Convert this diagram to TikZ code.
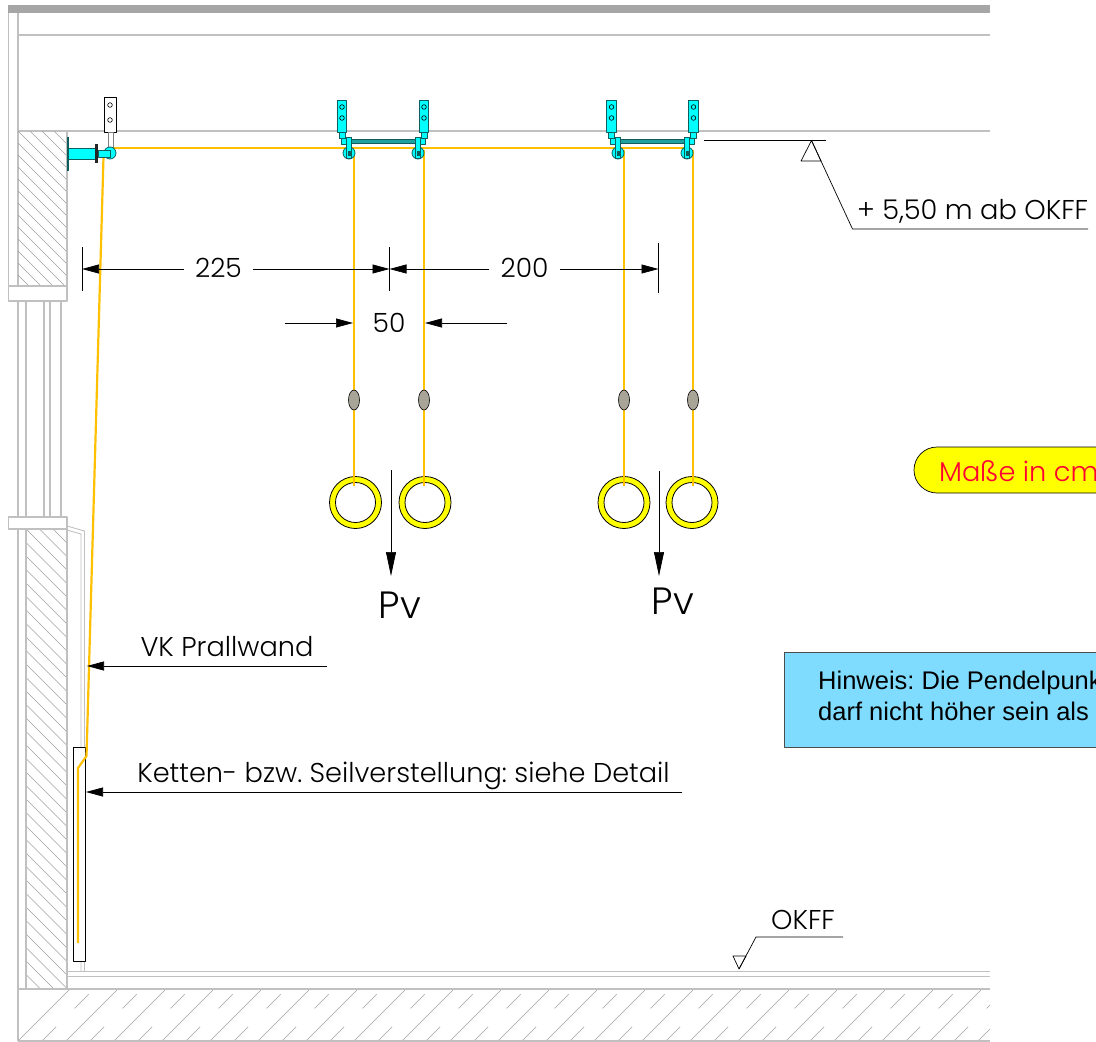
\documentclass[tikz,border=0pt]{standalone}
\usepackage{fontspec}
\setmainfont{Poppins}[UprightFont=* Light]
\newfontfamily\arialfont{Liberation Sans}
\usetikzlibrary{arrows.meta}
\frenchspacing
\definecolor{wallgray}{HTML}{C0C0C0}
\definecolor{hatchgray}{HTML}{A0A0A0}
\definecolor{ropecolor}{HTML}{FFC000}
\definecolor{tealdark}{HTML}{0E5E5E}
\definecolor{partcyan}{HTML}{00FFFF}
\definecolor{barcolor}{HTML}{20A0A0}
\definecolor{ringyellow}{HTML}{FFFF00}
\definecolor{notecolor}{HTML}{80DCFF}
\definecolor{weightgray}{HTML}{A8A498}
\definecolor{unitred}{HTML}{FF0033}
\begin{document}
\begin{tikzpicture}[x=1pt,y=-1pt,line join=round,
	wall/.style={draw=wallgray,line width=1.3pt},
	hatch/.style={draw=hatchgray,line width=0.6pt},
	rope/.style={draw=ropecolor,line width=2.2pt},
	part/.style={draw=tealdark,fill=partcyan,line width=0.8pt},
	plate/.style={draw=black,line width=0.9pt},
	dimline/.style={draw=black,line width=0.7pt},
	dimarrow/.style={dimline,-{Triangle[length=17pt,width=9pt]}},
	dimtext/.style={font=\fontsize{26.5}{30}\selectfont,inner ysep=0pt,inner xsep=11pt},
	leadtext/.style={font=\fontsize{27.2}{30}\selectfont,inner sep=0pt,anchor=base},
	pvtext/.style={font=\fontsize{38}{42}\selectfont,inner sep=0pt},
	notetext/.style={font=\arialfont\fontsize{25.5}{28}\selectfont,inner sep=0pt,anchor=base west}]
	\clip (0,0) rectangle (1096,1042);
	\useasboundingbox (0,0) rectangle (1096,1042);

	% building
	\fill[gray!70] (8,5) rectangle (990,13);
	\draw[wall] (8.5,13) -- (8.5,286) (18,13) -- (18,1041) (18,35) -- (990,35) (18,131) -- (990,131);
	\begin{scope}
		\clip (18,131) rectangle (67,286);
		\foreach \i in {-150,-138,...,70} {\draw[hatch] (\i,131) -- ++(160,160);}
	\end{scope}
	\begin{scope}
		\clip (26,529) rectangle (67,989);
		\foreach \i in {-460,-446.5,...,70} {\draw[hatch] (\i,529) -- ++(470,470);}
	\end{scope}
	\begin{scope}
		\clip (18,989) rectangle (990,1041);
		\foreach \i in {18,66,...,990} {\draw[hatch] (\i,1041) -- ++(52,-52);}
		\foreach \i in {42,90,...,990} {\draw[hatch,dash pattern=on 20pt off 26pt] (\i,1041) -- ++(52,-52);}
	\end{scope}
	\draw[wall] (67,131) -- (67,286) (67,529) -- (67,989);
	\draw[wall,fill=white] (8.5,286) rectangle (67,301);
	\draw[wall,fill=white] (8.5,517) rectangle (67,529);
	\foreach \i in {26,44,50,61} {\draw[wall] (\i,301) -- (\i,517);}
	\draw[wall] (26,529) -- (26,989);
	\draw[wall,line width=0.9pt] (67,526) -- (84.5,531) -- (84.5,971) (67,530) -- (81,534) -- (81,971);
	\draw[wall] (67,971.5) -- (990,971.5) (67,976.5) -- (990,976.5) (18,989) -- (990,989) (18,1041) -- (990,1041);

	% rings and ropes
	\foreach \x in {355.5,425,624,692} {
		\draw[black,fill=ringyellow,even odd rule,line width=0.8pt] (\x,502.5) circle (26pt) (\x,502.5) circle (20pt);
	}
	\draw[plate,fill=white] (73,747) rectangle (85,961);
	\draw[rope] (108,148) -- (690,148);
	\draw[rope] (103.5,157) -- (86.5,756) -- (78,768) -- (78,943);
	\foreach \x in {354,424,624,693} {
		\draw[rope] (\x,150) -- (\x,486);
		\draw[black,fill=weightgray,line width=0.6pt] (\x,400) ellipse (5.5pt and 10pt);
	}

	% wall mount
	\draw[plate,fill=white] (104,97) rectangle (116,132);
	\foreach \y in {105,120} {\draw[black,fill=white,line width=0.6pt] (110,\y) circle (2.3pt);}
	\draw[draw=gray,fill=white,line width=0.8pt] (108,132) rectangle (113,148);
	\draw[part] (68,148) rectangle (96,159);
	\fill[tealdark] (66.5,137) rectangle (68.5,171);
	\fill[black!85] (95,144) rectangle (98,163);
	\draw[part] (110,153) circle (6pt);
	\draw[part] (98,150) rectangle (110,157);

	% ceiling brackets
	\foreach \a/\b in {346/416,620/685} {
		\draw[draw=tealdark,fill=barcolor,line width=0.8pt] (\a,139.5) rectangle (\b,143);
	}
	\foreach \px/\rx/\s in {342/349/1,424/418/-1,611.5/618/1,693.5/687/-1} {
		\draw[part] (\px-4.7,100) rectangle (\px+4.7,132);
		\foreach \y in {107,118} {\draw[black,fill=none,line width=0.6pt] (\px,\y) circle (2.3pt);}
		\draw[part] (\px-3,132) rectangle (\px+3,138);
		\draw[part] (\px-\s*1,138) rectangle (\px+\s*4,144);
		\draw[part] (\rx,153) circle (6pt);
		\draw[part] (\rx-2.5,137) rectangle (\rx+2.5,158);
		\fill[tealdark] (\rx-1.5,151) rectangle (\rx+1.5,156);
	}

	% dimensions
	\coordinate (tickA) at (82,269);
	\coordinate (tickB) at (389.5,269);
	\coordinate (tickC) at (658.5,269);
	\coordinate (fiftyL) at (285,323);
	\coordinate (fiftyLend) at (353,323);
	\coordinate (fiftyR) at (507,323);
	\coordinate (fiftyRend) at (425,323);
	\draw[dimline] (82,247) -- (82,291) (389.5,247) -- (389.5,291) (658.5,243) -- (658.5,293);
	\node[dimtext] (dimA) at (218.5,268) {225};
	\node[dimtext] (dimB) at (524.5,268) {200};
	\node[dimtext,inner sep=0pt] (dimC) at (389,323) {50};
	\draw[dimarrow] (dimA.west |- tickA) -- (tickA);
	\draw[dimarrow] (dimA.east |- tickA) -- (tickB);
	\draw[dimarrow] (dimB.west |- tickB) -- (tickB);
	\draw[dimarrow] (dimB.east |- tickC) -- (tickC);
	\draw[dimarrow] (fiftyL) -- (fiftyLend);
	\draw[dimarrow] (fiftyR) -- (fiftyRend);

	% loads
	\node[pvtext] (pvA) at (400,605) {Pv};
	\node[pvtext] (pvB) at (673,601) {Pv};
	\coordinate (pvAtop) at (391,470);
	\coordinate (pvBtop) at (659,471);
	\draw[dimline,-{Triangle[length=24pt,width=10pt]}] (pvAtop) -- (391,576);
	\draw[dimline,-{Triangle[length=24pt,width=10pt]}] (pvBtop) -- (659,576);

	% levels and leaders
	\node[leadtext,anchor=base west] (height) at (857,219) {+ 5,50 m ab OKFF};
	\coordinate (levelL) at (704,140.5);
	\coordinate (levelR) at (826,140.5);
	\coordinate (levelTip) at (811.5,140.5);
	\coordinate (levelBend) at (852.5,229);
	\coordinate (levelEnd) at (1088,229);
	\draw[dimline] (levelL) -- (levelR);
	\draw[dimline] (levelTip) -- (801,161) -- (821,161) -- cycle;
	\draw[dimline] (levelTip) -- (levelBend) -- (levelEnd);

	\node[leadtext] (okff) at (803,929.5) {OKFF};
	\coordinate (floorTip) at (739,969);
	\coordinate (floorBend) at (756,937);
	\coordinate (floorEnd) at (843,937);
	\draw[dimline] (733,956) -- (746,956) -- (floorTip) -- cycle;
	\draw[dimline] (floorTip) -- (floorBend) -- (floorEnd);

	\node[leadtext] (prall) at (227,656) {VK Prallwand};
	\coordinate (prallR) at (327,666);
	\coordinate (prallL) at (87,666);
	\draw[dimarrow] (prallR) -- (prallL);
	\node[leadtext] (ketten) at (403.5,782) {Ketten- bzw. Seilverstellung: siehe Detail};
	\coordinate (kettenR) at (682,792);
	\coordinate (kettenL) at (86,792);
	\draw[dimarrow] (kettenR) -- (kettenL);

	% notes
	\draw[black,fill=ringyellow,line width=0.7pt,rounded corners=23pt] (914,447) rectangle (1150,493);
	\node[leadtext,anchor=base west,text=unitred] (units) at (939,481) {Maße in cm};
	\draw[draw=black!70,fill=notecolor,line width=0.8pt] (784.5,652) rectangle (1150,747);
	\node[notetext] (noteA) at (818,689) {Hinweis: Die Pendelpunk};
	\node[notetext] (noteB) at (818,720) {darf nicht höher sein als};
\end{tikzpicture}
\end{document}
